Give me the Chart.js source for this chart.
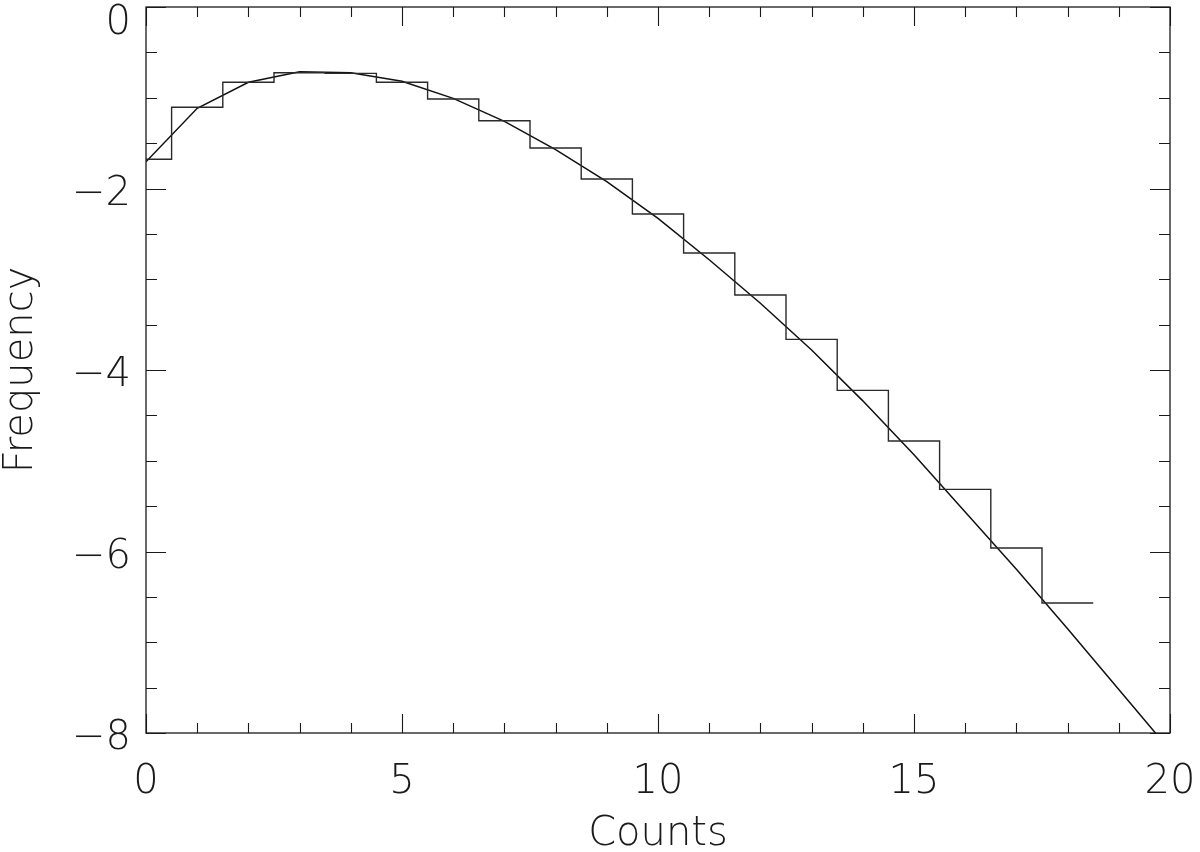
<!DOCTYPE html>
<html>
<head>
<meta charset="utf-8">
<script src="https://cdn.jsdelivr.net/npm/chart.js@4.4.1/dist/chart.umd.min.js"></script>
<style>
  html, body { margin: 0; padding: 0; background: #ffffff; }
  #wrap { width: 1200px; height: 852px; }
</style>
</head>
<body>
<div id="wrap"><canvas id="c" width="1200" height="852"></canvas></div>
<script>
// ---- Data ----
// Histogram bins (centred on integer counts), log10 frequency
const binCounts = [0, 1, 2, 3, 4, 5, 6, 7, 8, 9, 10, 11, 12, 13, 14, 15, 16, 17, 18];
const binValues = [-1.678, -1.105, -0.830, -0.724, -0.731, -0.830, -1.014, -1.253, -1.554,
                   -1.895, -2.281, -2.711, -3.174, -3.662, -4.224, -4.782, -5.315, -5.961, -6.567];
const binWidth = 1;

// Smooth model curve sampled at integer counts
const curveCounts = [0, 1, 2, 3, 4, 5, 6, 7, 8, 9, 10, 11, 12, 13, 14, 15, 16, 17, 18, 19, 20];
const curveValues = [-1.705, -1.116, -0.830, -0.713, -0.724, -0.818, -1.007, -1.260, -1.571,
                     -1.925, -2.330, -2.785, -3.265, -3.780, -4.340, -4.935, -5.565, -6.195,
                     -6.850, -7.520, -8.190];

// Axis ticks
const xTickValues = [0, 5, 10, 15, 20];
const yTickValues = [0, -2, -4, -6, -8];
const xMinorStep = 1;
const yMinorStep = 0.5;

const xTitle = 'Counts';
const yTitle = 'Frequency';

// ---- Build datasets ----
const histPoints = binCounts.map((c, i) => ({ x: c, y: binValues[i] }));
histPoints.push({ x: binCounts[binCounts.length - 1] + binWidth / 2, y: binValues[binValues.length - 1] });
const curvePoints = curveCounts.map((c, i) => ({ x: c, y: curveValues[i] }));

const INK = '#1a1a1a';
const FONT = "'DejaVu Sans', 'Liberation Sans', sans-serif";

function fmt(v) {
  if (v < 0) return '\u2212' + Math.abs(v);
  return String(v);
}

// Frame + inward tick marks on all four sides
const framePlugin = {
  id: 'frame',
  beforeDraw(chart) {
    const y = chart.scales.y;
    const items = y.getLabelItems(chart.chartArea);
    items.forEach((it) => {
      const val = Number(String(it.label).replace('\u2212', '-'));
      const p = y.getPixelForValue(val);
      let off = 6;
      if (val === yTickValues[0]) off = 17;
      it.options.translation[1] = p + off;
    });
  },
  afterDatasetsDraw(chart) {
    const { ctx, chartArea: a } = chart;
    const xs = chart.scales.x, ys = chart.scales.y;
    ctx.save();
    ctx.strokeStyle = INK;
    ctx.lineWidth = 1.3;
    ctx.strokeRect(a.left, a.top, a.right - a.left, a.bottom - a.top);
    ctx.lineWidth = 1.1;
    ctx.beginPath();
    for (let v = xs.min; v <= xs.max + 1e-9; v += xMinorStep) {
      const px = Math.round(xs.getPixelForValue(v)) + 0.5;
      const major = xTickValues.some(t => Math.abs(t - v) < 1e-9);
      const len = major ? 19 : 10;
      ctx.moveTo(px, a.bottom); ctx.lineTo(px, a.bottom - len);
      ctx.moveTo(px, a.top); ctx.lineTo(px, a.top + len);
    }
    for (let v = ys.min; v <= ys.max + 1e-9; v += yMinorStep) {
      const py = Math.round(ys.getPixelForValue(v)) + 0.5;
      const major = yTickValues.some(t => Math.abs(t - v) < 1e-9);
      const len = major ? 20 : 11;
      ctx.moveTo(a.left, py); ctx.lineTo(a.left + len, py);
      ctx.moveTo(a.right, py); ctx.lineTo(a.right - len, py);
    }
    ctx.stroke();
    ctx.restore();
  }
};

new Chart(document.getElementById('c'), {
  type: 'line',
  data: {
    datasets: [
      {
        label: 'Histogram',
        data: histPoints,
        stepped: 'middle',
        borderColor: '#2a2a2a',
        borderWidth: 1.4,
        pointRadius: 0,
        fill: false
      },
      {
        label: 'Model',
        data: curvePoints,
        borderColor: '#111111',
        borderWidth: 1.5,
        pointRadius: 0,
        tension: 0,
        fill: false
      }
    ]
  },
  options: {
    responsive: false,
    animation: false,
    devicePixelRatio: 1,
    layout: { autoPadding: false, padding: { left: 0, top: 7, right: 30, bottom: 0 } },
    plugins: { legend: { display: false }, tooltip: { enabled: false } },
    scales: {
      x: {
        type: 'linear',
        min: 0, max: 20,
        afterBuildTicks: (s) => { s.ticks = xTickValues.map(v => ({ value: v })); },
        afterFit: (s) => { s.height = 119; s.paddingLeft = 0; s.paddingRight = 0; },
        grid: { display: false, drawTicks: false },
        border: { display: false },
        ticks: {
          padding: 30,
          color: INK,
          maxRotation: 0,
          autoSkip: false,
          font: { family: FONT, size: 40, weight: '200', lineHeight: 1 },
          callback: (v) => fmt(v)
        },
        title: {
          display: true,
          text: xTitle,
          color: INK,
          padding: { top: 0, bottom: -3 },
          font: { family: FONT, size: 40, weight: '200', lineHeight: 1 }
        }
      },
      y: {
        type: 'linear',
        min: -8, max: 0,
        afterBuildTicks: (s) => { s.ticks = yTickValues.map(v => ({ value: v })); },
        afterFit: (s) => { s.width = 146; s.paddingTop = 0; s.paddingBottom = 0; },
        grid: { display: false, drawTicks: false },
        border: { display: false },
        ticks: {
          padding: 15,
          color: INK,
          autoSkip: false,
          font: { family: FONT, size: 40, weight: '200', lineHeight: 1 },
          callback: (v) => fmt(v)
        },
        title: {
          display: true,
          text: yTitle,
          color: INK,
          padding: { top: 2, bottom: 0 },
          font: { family: FONT, size: 40, weight: '200', lineHeight: 1 }
        }
      }
    }
  },
  plugins: [framePlugin]
});
</script>
</body>
</html>
